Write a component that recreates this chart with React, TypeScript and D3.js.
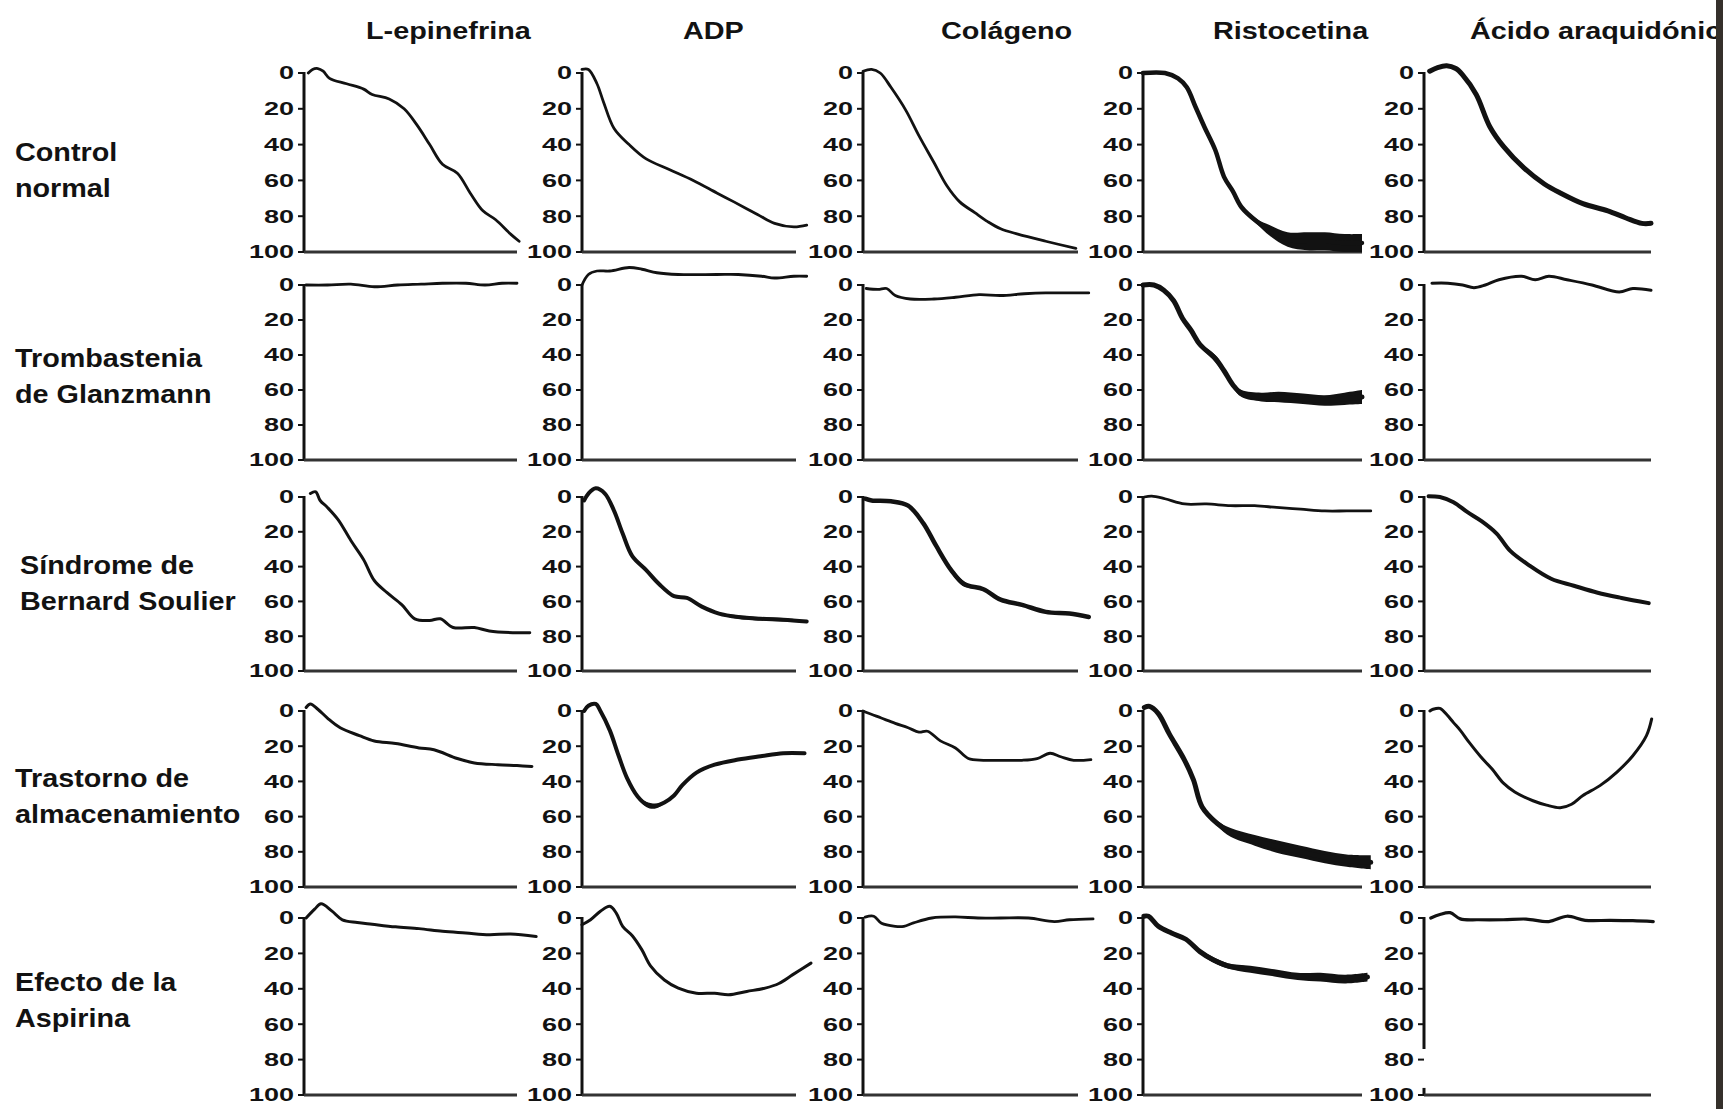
import React from "react";
import * as d3 from "d3";

const agonists = ["L-epinefrina", "ADP", "Colágeno", "Ristocetina", "Ácido araquidónico"];
const conditions = [
  ["Control", "normal"],
  ["Trombastenia", "de Glanzmann"],
  ["Síndrome de", "Bernard Soulier"],
  ["Trastorno de", "almacenamiento"],
  ["Efecto de la", "Aspirina"],
];
const yTicks = [0, 20, 40, 60, 80, 100];

// each point: [time (% of trace), aggregation (%), noise half-band (%)]
const controlNormal = [
  [[2, 0], [4, -2], [6.5, -2.5], [9, -1], [12, 3], [20, 6], [28, 9], [32, 12], [40, 14.5], [47, 20], [53, 29], [59, 40], [65, 51], [72, 56], [78, 67], [84, 77], [90, 82], [97, 90], [101, 94]],
  [[0, -2], [3, -2], [7, 6], [10, 16], [15, 31], [22, 40], [30, 48], [41, 54], [52, 60], [63, 67], [71, 72], [82, 79], [90, 84], [99, 86], [105, 85]],
  [[0, -1], [4, -2], [8, 0], [13, 8], [20, 21], [26, 35], [33, 50], [39, 63], [45, 72], [52, 78], [58, 83], [64, 87], [72, 90], [85, 94], [99, 98]],
  [[0, 0], [10, 0], [16, 3], [20, 8], [24, 19], [28, 30], [33, 43], [37, 58], [41, 66, 0.5], [45, 75, 1], [52, 83, 1.5], [58, 88, 3], [66, 93, 4], [75, 94, 5], [83, 94, 5], [92, 95, 5], [100, 95, 5]],
  [[2.5, -1], [6, -3], [10, -4], [14, -2.5], [17, 1], [23, 12], [29, 30], [35, 41], [44, 53], [53, 62], [60, 67, 0.5], [70, 73, 0.5], [81, 77, 1], [89, 81, 1], [96, 84, 1], [100, 84, 1]],
];

const glanzmann = [
  [[1, 0], [11, 0], [22, -0.5], [33, 1], [44, 0], [55, -0.5], [65, -1], [76, -1], [85, 0], [93, -1], [100, -1]],
  [[0, 0], [3, -6], [7, -8], [13, -8], [22, -10], [28, -9], [35, -7], [45, -6], [63, -6], [73, -6], [84, -5], [90, -4], [99, -5], [105, -5]],
  [[1.5, 2], [7, 2.5], [11, 2], [15, 6], [22, 8], [33, 8], [43, 7], [54, 5.5], [64, 6], [75, 5], [85, 4.5], [95, 4.5], [105, 4.5]],
  [[0, 0], [5, 0], [9.5, 3], [14, 9], [18, 19], [22, 26], [26, 34, 1], [33, 42, 2], [37, 49, 1.5], [41, 57, 1.5], [45, 62, 2], [54, 64, 2.5], [62, 64, 3], [73, 65, 3], [83, 66, 3], [92, 65, 3.5], [100, 64, 4]],
  [[3.5, -1], [10.5, -1], [17, 0], [22, 1.5], [27, 0], [33, -3], [43, -5], [49, -3], [55, -5], [63, -3], [74, 0], [86, 4], [92, 2], [100, 3]],
];

const bernardSoulier = [
  [[3, -2], [5.5, -3], [7.6, 2], [11, 6], [16, 13], [22, 25], [28, 36], [33, 48], [39, 55], [46, 62], [52, 70], [59, 71], [64, 70], [70, 75], [80, 75], [87, 77], [98, 78], [106, 78]],
  [[1, 2], [3, -2], [6.4, -5], [10.7, -2], [15, 8], [19, 21], [23.5, 34], [30, 42], [36, 50], [43, 57], [49, 58], [56, 63], [64, 67, 0.5], [73, 69, 1], [83.5, 70, 1], [94, 70.5, 1], [105, 71.5, 0.5]],
  [[1, 1], [4, 2], [13, 2.5], [21, 5], [28, 15], [34, 28, 0.5], [41, 42, 1.5], [47, 50, 1.5], [56, 53], [64, 59], [74, 62, 0.5], [85, 66, 0.5], [96, 67], [105, 69]],
  [[0.6, 0], [4, -0.5], [10, 1], [19, 4], [29, 4], [40, 5], [51, 5], [61, 6], [72, 7], [83, 8], [93, 8], [104, 8]],
  [[2, -0.5], [7, 0], [13, 3], [19, 8.6], [25.5, 14], [32, 21], [38, 31], [46, 39], [56, 47], [66, 51], [76.5, 55], [87, 58], [99, 61]],
];

const storagePool = [
  [[1, -2], [3, -4], [6.5, -1], [11, 4], [17, 9.5], [26, 14], [33, 17], [43, 18.5], [54, 21], [61, 22], [72, 27], [80, 29.5], [91, 30.5], [100, 31], [107, 31.5]],
  [[1, 0], [3, -3], [6.4, -4], [8.6, 0], [13, 11], [17, 25], [21, 38], [26, 48.6, 0.5], [30, 53, 1.5], [34, 54, 1.5], [38.5, 52, 0.5], [43, 48], [47, 42], [53.5, 35], [62, 30.5], [73, 27.6], [83.5, 25.7], [94, 24], [104, 24]],
  [[0, 0], [2, 1], [8.5, 4], [15, 7], [21, 9.5], [26, 12], [30, 11.5], [36, 17], [43, 21], [49, 27], [56, 28], [64, 28], [74, 28], [81, 27], [87, 24], [92, 26], [98, 28], [106, 27.6]],
  [[0.6, -2], [3, -2.6], [7, 1.5], [12, 13], [19, 28], [23, 39], [27, 54.5], [34, 64, 1.5], [40, 69, 2.5], [51, 73.5, 3], [61, 77, 3.5], [72, 80, 3.5], [83, 83, 3.5], [93, 85, 3.5], [104, 86, 4]],
  [[2.6, 0], [4, -1], [7, -1.5], [10, 2], [13, 6.6], [16, 11], [20, 18], [25, 26], [30, 33], [35, 41], [40, 46], [48, 51], [54, 53.5], [60, 55], [65, 53], [70, 48], [77.5, 42.4], [85, 34.7], [92, 25.4], [98, 14], [100.3, 4.5]],
];

const aspirin = [
  [[1, 0], [5, -5], [8, -8], [13, -4], [18, 1], [25, 2.5], [32, 3.5], [43, 5], [54, 6], [65, 7.5], [76, 8.5], [87, 9.5], [97, 9], [109, 10.5]],
  [[0, 3.8], [4, 1], [8.6, -3.8], [13, -6.6], [16, -2.8], [19, 4.7], [23.5, 10], [28, 18], [32, 27], [38.5, 35], [45, 39.6], [53.5, 42.5], [62, 42.5], [68.5, 43.4], [77, 41.5], [85.6, 39.6], [92, 37], [98.5, 32], [107, 25.5]],
  [[1, -0.5], [5, -1], [8.6, 3], [15, 4.7], [19, 4.7], [23.5, 2.8], [32, 0], [43, -0.6], [53.5, 0], [64, 0], [77, 0], [89, 2], [96, 1], [107, 0.5]],
  [[0.4, -1], [2.5, -1], [7, 4.7], [13, 8.5], [19.6, 12], [26, 19, 1], [32, 23.6, 1.5], [38.7, 27, 1.5], [49, 29, 2], [60, 31, 2], [70.6, 33, 2], [81, 33.4, 2.5], [92, 34.5, 2.5], [102.5, 33.4, 2.5]],
  [[3, 0], [7, -2], [11.5, -3], [16, 0.5], [24, 1], [35, 1], [45, 0.6], [55, 2], [63, -1], [71, 1.3], [82, 1.3], [92, 1.5], [101, 2, 0.5]],
];

const rows = [controlNormal, glanzmann, bernardSoulier, storagePool, aspirin];

// layout
const W = 1723;
const H = 1109;
const colAxisX = [304, 582, 863, 1143, 1424];
const colWidth = [213, 214, 215, 219, 227];
const rowTop = [73, 285, 497, 711, 918];
const rowBottom = [252, 460, 671, 887, 1095];
const headerX = [366, 683, 941, 1213, 1470];
const labelX = [15, 15, 20, 15, 15];
const labelY = [161, 367, 574, 787, 991];
const lineWidths = [
  [2.8, 2.8, 2.8, 4.5, 5],
  [2.8, 2.8, 2.8, 5, 3],
  [3, 4, 4.5, 2.8, 4],
  [3, 4, 2.8, 5, 3],
  [3, 3, 2.8, 5, 3.2],
];
// the last panel's y axis is broken in the original scan
const axisGap = { r: 4, c: 4, from: 74, to: 96 };

const ink = "#121212";

function Panel({ r, c }: { r: number; c: number }) {
  const x0 = colAxisX[c];
  const x = d3.scaleLinear().domain([0, 100]).range([x0, x0 + colWidth[c]]);
  const y = d3.scaleLinear().domain([0, 100]).range([rowTop[r], rowBottom[r]]);
  const pts = rows[r][c] as number[][];
  const curve = d3.curveCatmullRom.alpha(0.5);

  const line = d3
    .line<number[]>()
    .x((d) => x(d[0]))
    .y((d) => y(d[1]))
    .curve(curve);

  const band = d3
    .area<number[]>()
    .x((d) => x(d[0]))
    .y0((d) => y(d[1] - (d[2] || 0)))
    .y1((d) => y(d[1] + (d[2] || 0)))
    .curve(curve);

  const hasBand = pts.some((d) => (d[2] || 0) > 0);
  const broken = axisGap.r === r && axisGap.c === c;

  return (
    <g>
      {broken ? (
        <>
          <line x1={x0} x2={x0} y1={y(0) - 1} y2={y(axisGap.from)} stroke={ink} strokeWidth={3} />
          <line x1={x0} x2={x0} y1={y(axisGap.to)} y2={y(100)} stroke={ink} strokeWidth={3} />
        </>
      ) : (
        <line x1={x0} x2={x0} y1={y(0) - 1} y2={y(100)} stroke={ink} strokeWidth={3} />
      )}
      <line x1={x0} x2={x(100)} y1={y(100)} y2={y(100)} stroke="#333" strokeWidth={3} />
      {yTicks.map((t) => (
        <g key={t}>
          <line x1={x0 - 6} x2={x0} y1={y(t)} y2={y(t)} stroke={ink} strokeWidth={2} />
          <text
            transform={`translate(${x0 - 10},${y(t)}) scale(1.5,1)`}
            textAnchor="end"
            dy="0.36em"
            fontSize={18}
            fontWeight="bold"
            fill={ink}
          >
            {t}
          </text>
        </g>
      ))}
      {hasBand && <path d={band(pts) || ""} fill={ink} />}
      <path
        d={line(pts) || ""}
        fill="none"
        stroke={ink}
        strokeWidth={lineWidths[r][c]}
        strokeLinejoin="round"
        strokeLinecap="round"
      />
    </g>
  );
}

export default function App() {
  return (
    <div style={{ position: "absolute", left: 0, top: 0 }}>
      <svg
        width={W}
        height={H}
        style={{ display: "block", background: "#fff" }}
        fontFamily="'Liberation Sans', Arial, Helvetica, sans-serif"
      >
        <rect width={W} height={H} fill="#fff" />
        {agonists.map((a, c) => (
          <text
            key={a}
            transform={`translate(${headerX[c]},39) scale(1.2,1)`}
            fontSize={24}
            fontWeight="bold"
            fill={ink}
          >
            {a}
          </text>
        ))}
        {conditions.map((lines, r) => (
          <g key={r} transform={`translate(${labelX[r]},${labelY[r]})`}>
            {lines.map((s, i) => (
              <text key={s} transform={`translate(0,${i * 36}) scale(1.15,1)`} fontSize={25} fontWeight="bold" fill={ink}>
                {s}
              </text>
            ))}
          </g>
        ))}
        {rows.map((row, r) => row.map((_, c) => <Panel key={`${r}-${c}`} r={r} c={c} />))}
        <rect x={1716} y={0} width={W - 1716} height={H} fill="#35302b" />
      </svg>
    </div>
  );
}
